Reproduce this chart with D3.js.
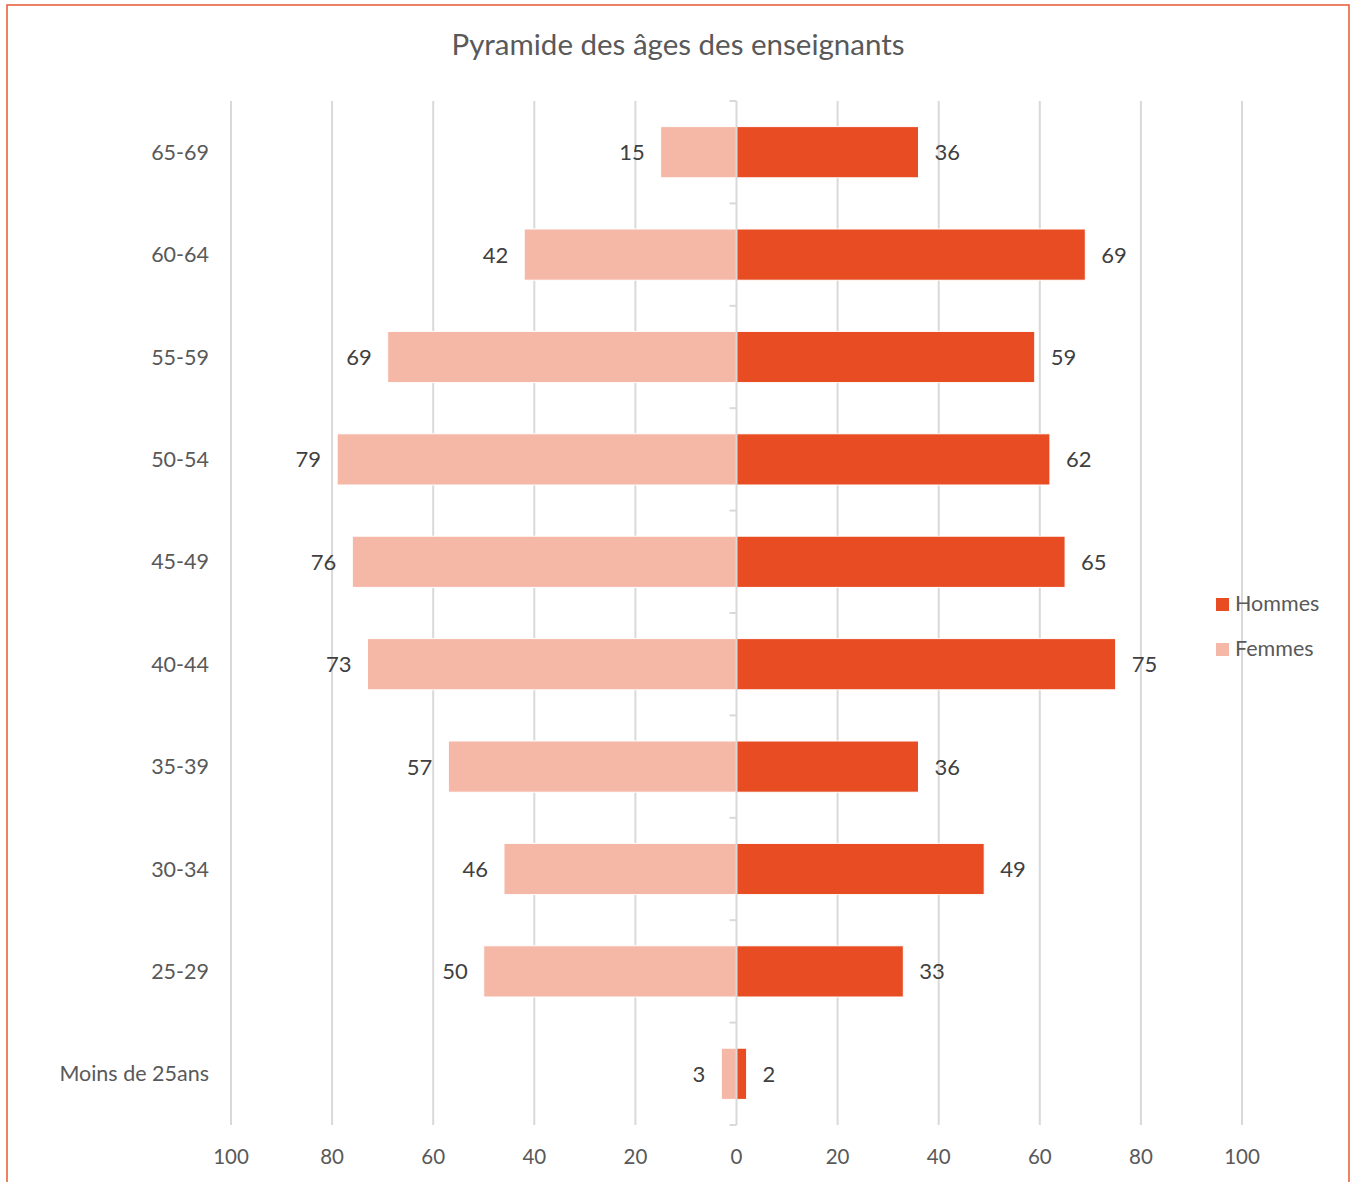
<!DOCTYPE html>
<html><head><meta charset="utf-8">
<script src="https://cdn.jsdelivr.net/npm/d3@7"></script>
<style>body{margin:0;background:#fff}svg{display:block}</style>
</head><body>
<svg id="c" width="1357" height="1182"></svg>
<script>
const categories = ["65-69","60-64","55-59","50-54","45-49","40-44","35-39","30-34","25-29","Moins de 25ans"];
const hommes = [36,69,59,62,65,75,36,49,33,2];
const femmes = [15,42,69,79,76,73,57,46,50,3];
const tickValues = [-100,-80,-60,-40,-20,0,20,40,60,80,100];
const title = "Pyramide des âges des enseignants";
const seriesNames = ["Hommes","Femmes"];

const colH = "#E84C22", colF = "#F5B7A6";
const font = "Lato, 'Open Sans', sans-serif";
const svg = d3.select("#c");

svg.append("rect").attr("x",7).attr("y",5).attr("width",1342).attr("height",1200)
  .attr("fill","#fff").attr("stroke","#E85A30").attr("stroke-width",1.5);

const x = d3.scaleLinear().domain([-100,100]).range([231,1242]);
const y = d3.scaleBand().domain(categories).range([101,1125]).paddingInner(0.5).paddingOuter(0.25);
const yb = d3.scaleBand().domain(categories).range([101,1125]);

svg.append("text").attr("x",678).attr("y",55).attr("text-anchor","middle")
  .attr("font-family",font).attr("font-size",29.5).attr("fill","#595959").text(title);

// gridlines
svg.append("g").selectAll("line").data(tickValues.filter(d=>d!==0)).join("line")
  .attr("x1",d=>x(d)).attr("x2",d=>x(d)).attr("y1",101).attr("y2",1125)
  .attr("stroke","#D9D9D9").attr("stroke-width",2);

// bars
const g = svg.append("g");
g.selectAll(".f").data(categories).join("rect")
  .attr("x",(d,i)=>x(-femmes[i])).attr("width",(d,i)=>x(0)-x(-femmes[i]))
  .attr("y",d=>y(d)).attr("height",y.bandwidth()).attr("fill",colF)
  .attr("stroke","#fff").attr("stroke-width",1);
g.selectAll(".h").data(categories).join("rect")
  .attr("x",x(0)).attr("width",(d,i)=>x(hommes[i])-x(0))
  .attr("y",d=>y(d)).attr("height",y.bandwidth()).attr("fill",colH)
  .attr("stroke","#fff").attr("stroke-width",1);

// center axis
svg.append("line").attr("x1",x(0)).attr("x2",x(0)).attr("y1",101).attr("y2",1125)
  .attr("stroke","#D9D9D9").attr("stroke-width",2);
const bounds = categories.map(c=>yb(c)).concat([yb(categories[categories.length-1])+yb.bandwidth()]);
svg.append("g").selectAll("line").data(bounds).join("line")
  .attr("x1",x(0)-7).attr("x2",x(0)).attr("y1",d=>d).attr("y2",d=>d)
  .attr("stroke","#D9D9D9").attr("stroke-width",2);

// category labels
svg.append("g").selectAll("text").data(categories).join("text")
  .attr("x",209).attr("y",d=>y(d)+y.bandwidth()/2+7.5).attr("text-anchor","end")
  .attr("font-family",font).attr("font-size",21.5).attr("fill","#595959").text(d=>d);

// data labels
svg.append("g").selectAll("text").data(categories).join("text")
  .attr("x",(d,i)=>x(-femmes[i])-16).attr("y",d=>y(d)+y.bandwidth()/2+8).attr("text-anchor","end")
  .attr("font-family",font).attr("font-size",22).attr("fill","#404040").text((d,i)=>femmes[i]);
svg.append("g").selectAll("text").data(categories).join("text")
  .attr("x",(d,i)=>x(hommes[i])+16).attr("y",d=>y(d)+y.bandwidth()/2+8).attr("text-anchor","start")
  .attr("font-family",font).attr("font-size",22).attr("fill","#404040").text((d,i)=>hommes[i]);

// x axis labels
svg.append("g").selectAll("text").data(tickValues).join("text")
  .attr("x",d=>x(d)).attr("y",1164).attr("text-anchor","middle")
  .attr("font-family",font).attr("font-size",20.5).attr("fill","#595959").text(d=>Math.abs(d));

// legend
const leg = svg.append("g");
[colH,colF].forEach((c,i)=>{
  leg.append("rect").attr("x",1216).attr("y",598+i*45).attr("width",13).attr("height",13).attr("fill",c);
  leg.append("text").attr("x",1235).attr("y",611+i*45).attr("font-family",font).attr("font-size",21.5)
    .attr("fill","#595959").text(seriesNames[i]);
});
</script>
</body></html>
